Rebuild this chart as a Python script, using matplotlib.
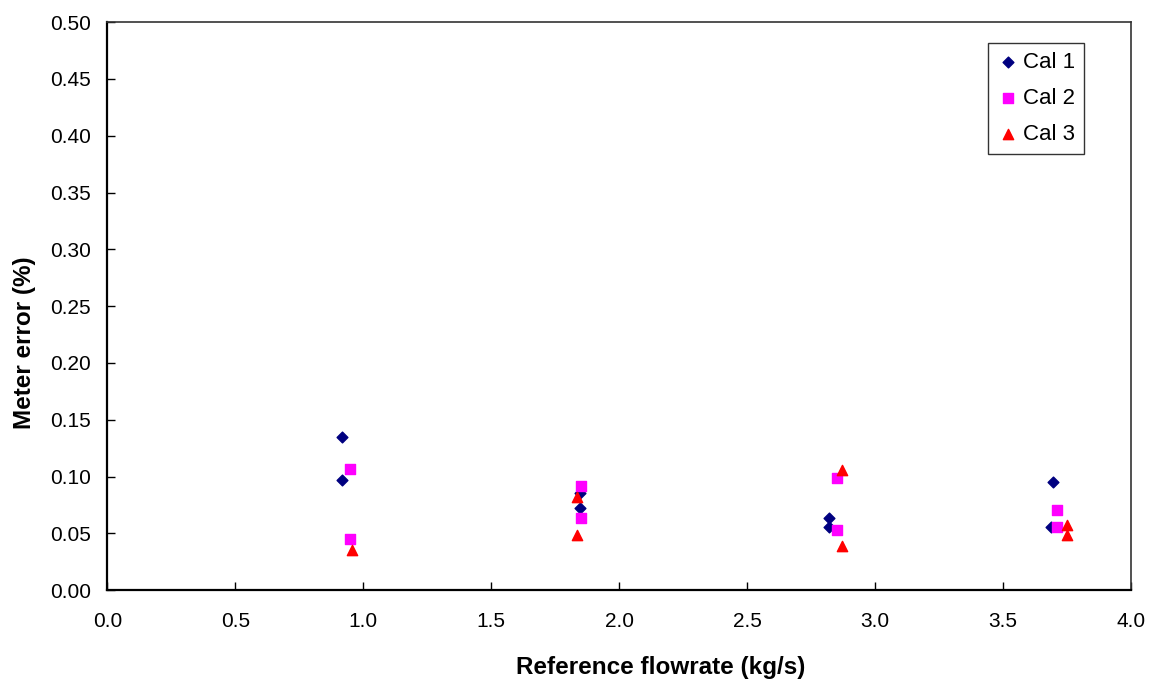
import matplotlib
matplotlib.use('Agg')
import matplotlib.pyplot as plt

plt.rcParams['font.family'] = ['Liberation Sans', 'DejaVu Sans']

# data
cal1_x = [0.917, 0.917, 1.848, 1.848, 2.818, 2.818, 3.694, 3.686]
cal1_y = [0.135, 0.097, 0.086, 0.072, 0.064, 0.056, 0.095, 0.056]
cal2_x = [0.947, 0.947, 1.852, 1.852, 2.850, 2.850, 3.710, 3.710]
cal2_y = [0.107, 0.045, 0.092, 0.064, 0.099, 0.053, 0.071, 0.056]
cal3_x = [0.955, 1.835, 1.835, 2.872, 2.872, 3.751, 3.751]
cal3_y = [0.035, 0.082, 0.049, 0.106, 0.039, 0.057, 0.049]

x_ticks = [0.0, 0.5, 1.0, 1.5, 2.0, 2.5, 3.0, 3.5, 4.0]
y_ticks = [0.00, 0.05, 0.10, 0.15, 0.20, 0.25, 0.30, 0.35, 0.40, 0.45, 0.50]

fig = plt.figure(figsize=(11.49, 6.8), dpi=100)
ax = fig.add_axes([0.0935, 0.132, 0.891, 0.8355])

ax.scatter(cal1_x, cal1_y, marker='D', s=30, color='#000080', label='Cal 1', zorder=3)
ax.scatter(cal2_x, cal2_y, marker='s', s=52, color='#ff00ff', label='Cal 2', zorder=3)
ax.scatter(cal3_x, cal3_y, marker='^', s=55, color='#ff0000', label='Cal 3', zorder=3)

ax.set_xlim(0, 4.0)
ax.set_ylim(0, 0.5)
ax.set_xticks(x_ticks)
ax.set_xticklabels(['%.1f' % v for v in x_ticks])
ax.set_yticks(y_ticks)
ax.set_yticklabels(['%.2f' % v for v in y_ticks])
ax.tick_params(direction='in', length=6, width=1, labelsize=15)
ax.tick_params(axis='y', pad=12)
ax.tick_params(axis='x', pad=16)

for s in ['left', 'bottom']:
    ax.spines[s].set_linewidth(1.6)
    ax.spines[s].set_color('black')
for s in ['top', 'right']:
    ax.spines[s].set_linewidth(1.2)
    ax.spines[s].set_color('#333333')

ax.set_xlabel('Reference flowrate (kg/s)', fontsize=17.5, fontweight='bold', va='center')
ax.xaxis.set_label_coords(0.54, -0.136)
ax.set_ylabel('Meter error (%)', fontsize=17.5, fontweight='bold', va='center')
ax.yaxis.set_label_coords(-0.081, 0.436)

leg = ax.legend(loc='upper right', bbox_to_anchor=(0.954, 0.963), fontsize=16,
                frameon=True, fancybox=False, edgecolor='black',
                handletextpad=0.2, handlelength=1.0, labelspacing=0.68,
                borderpad=0.4, borderaxespad=0, scatterpoints=1)
leg.get_frame().set_linewidth(1.0)

fig.savefig('out.png', dpi=100)
